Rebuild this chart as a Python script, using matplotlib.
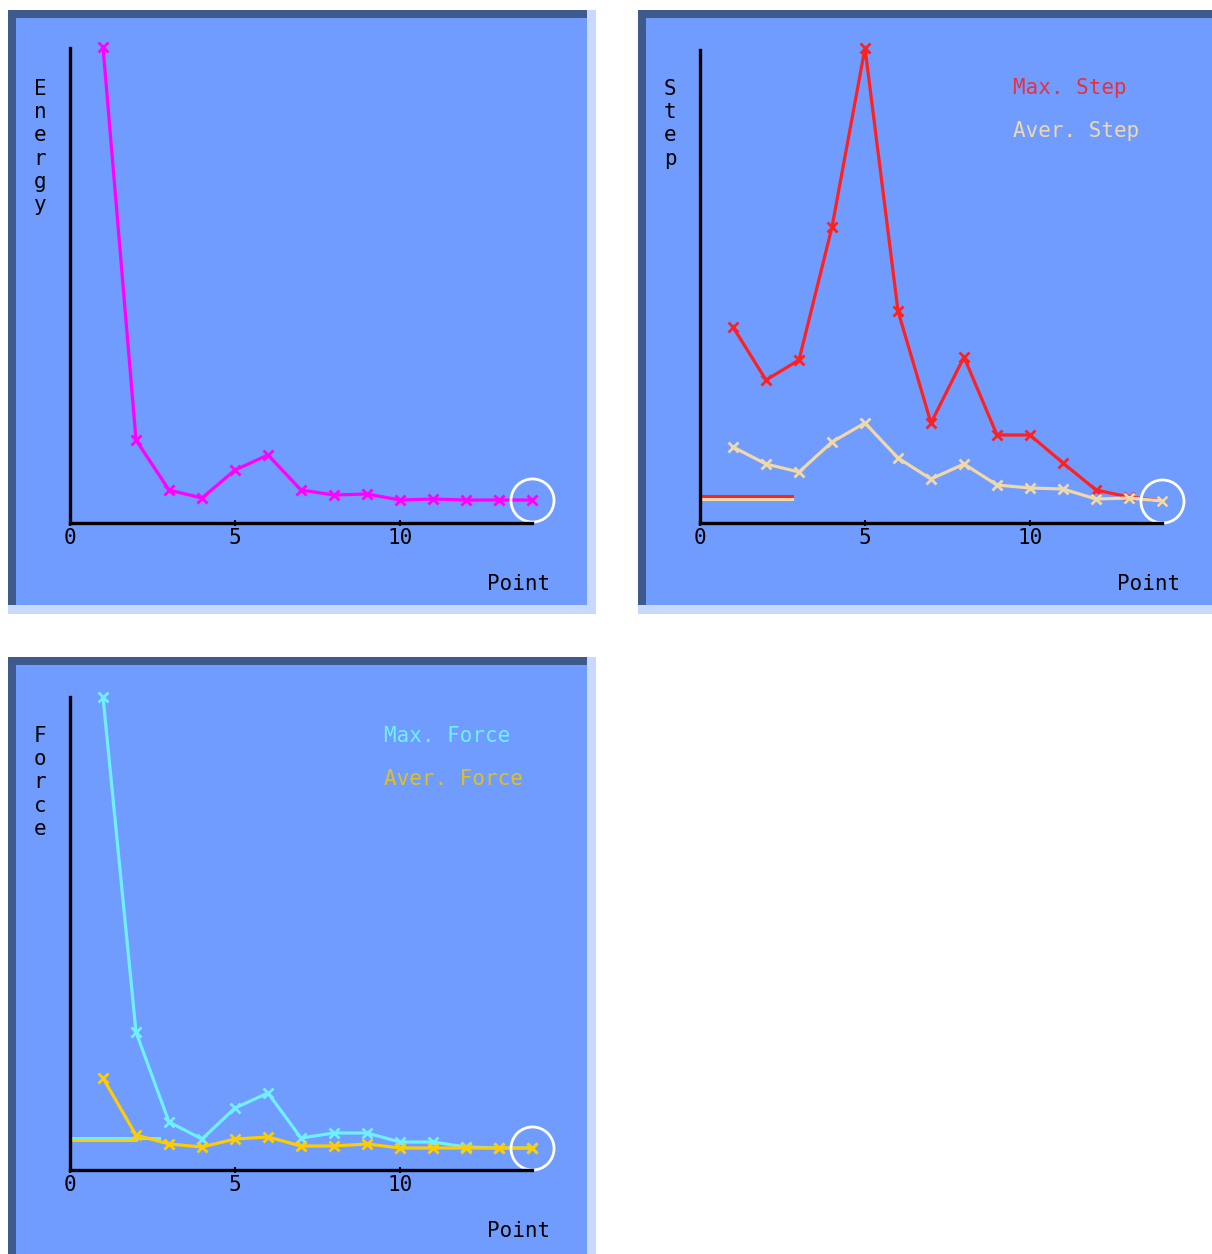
import numpy as np
import matplotlib.pyplot as plt
from matplotlib.patches import Rectangle

# data (arbitrary units)
points = list(range(1, 15))
energy = [476, 83, 33, 25, 53, 68, 33, 28, 29, 23, 24, 23, 23, 23]
max_step = [196, 143, 163, 296, 475, 212, 100, 166, 88, 88, 60, 33, 26, 22]
aver_step = [76, 59, 51, 81, 100, 65, 44, 59, 38, 35, 34, 24, 25, 22]
max_force = [473, 138, 48, 31, 62, 77, 32, 37, 37, 28, 28, 23, 22, 22]
aver_force = [92, 35, 26, 23, 31, 33, 24, 24, 26, 22, 22, 22, 22, 22]
# short stubs drawn from the origin
step_stub_x = [0, 2.8]
max_step_stub = [27, 27]
aver_step_stub = [24, 24]
force_stub_x = [0, 2.7]
force_stub_x2 = [0, 2.0]
max_force_stub = [32, 32]
aver_force_stub = [30, 30]
xticks = [0, 5, 10]

W, H = 1212, 1254
PANEL = '#709cff'
DARK = '#3e5a8c'
LIGHT = '#c8d8ff'
MONO = 'DejaVu Sans Mono'
FS = 15

fig = plt.figure(figsize=(W / 100, H / 100), dpi=100)
fig.patch.set_facecolor('white')

bg = fig.add_axes([0, 0, 1, 1], zorder=0)
bg.set_xlim(0, W)
bg.set_ylim(H, 0)
bg.axis('off')


def panel(x0, y0, x1, y1):
    bg.add_patch(Rectangle((x0, y0), x1 - x0, y1 - y0, color=LIGHT, lw=0))
    bg.add_patch(Rectangle((x0, y0), x1 - x0 - 9, y1 - y0 - 9, color=DARK, lw=0))
    bg.add_patch(Rectangle((x0 + 8, y0 + 8), x1 - x0 - 17, y1 - y0 - 17, color=PANEL, lw=0))


panel(8, 10, 596, 614)
panel(638, 10, 1230, 614)
panel(8, 657, 596, 1272)


def make_axes(l, t, r, b, ymax):
    ax = fig.add_axes([l / W, 1 - b / H, (r - l) / W, (b - t) / H], zorder=2)
    ax.patch.set_alpha(0)
    ax.set_xlim(0, 14)
    ax.set_ylim(0, ymax)
    for s in ['top', 'right']:
        ax.spines[s].set_visible(False)
    for s in ['left', 'bottom']:
        ax.spines[s].set_linewidth(2.4)
        ax.spines[s].set_color('black')
    ax.set_yticks([])
    ax.set_xticks(xticks)
    ax.set_xticklabels([str(t) for t in xticks], family=MONO, fontsize=FS)
    ax.tick_params(axis='x', length=5, width=1.5, pad=1, direction='inout')
    return ax


def series(ax, y, color):
    ax.plot(points, y, color=color, lw=2.3, marker='x', ms=7, mew=2, clip_on=False)


def end_circle(ax, y):
    ax.plot(points[-1], y[-1], 'o', ms=31, mfc='none', mec='white', mew=2, clip_on=False)


def side_label(x, y, text):
    bg.text(x, y, '\n'.join(text), family=MONO, fontsize=FS, ha='center', va='top',
            linespacing=1.2, color='black')


# Energy
ax1 = make_axes(70, 48, 532, 523, 475)
series(ax1, energy, '#ff00ff')
end_circle(ax1, energy)
side_label(40, 79, 'Energy')
bg.text(550, 584, 'Point', family=MONO, fontsize=FS, ha='right', va='center')

# Step
ax2 = make_axes(700, 50, 1162, 523, 473)
ax2.plot(step_stub_x, max_step_stub, color='#ff2020', lw=2.2)
ax2.plot(step_stub_x, aver_step_stub, color='#f0d8a8', lw=2.2)
series(ax2, max_step, '#ff2020')
series(ax2, aver_step, '#f0d8a8')
end_circle(ax2, aver_step)
side_label(670, 79, 'Step')
bg.text(1180, 584, 'Point', family=MONO, fontsize=FS, ha='right', va='center')
bg.text(1013, 88, 'Max. Step', family=MONO, fontsize=FS, color='#e8303c', va='center')
bg.text(1013, 131, 'Aver. Step', family=MONO, fontsize=FS, color='#f0d8a8', va='center')

# Force
ax3 = make_axes(70, 697, 532, 1170, 473)
ax3.plot(force_stub_x, max_force_stub, color='#70f0ff', lw=2.2)
ax3.plot(force_stub_x2, aver_force_stub, color='#ffcc00', lw=2.2)
series(ax3, max_force, '#70f0ff')
series(ax3, aver_force, '#ffcc00')
end_circle(ax3, aver_force)
side_label(40, 726, 'Force')
bg.text(550, 1231, 'Point', family=MONO, fontsize=FS, ha='right', va='center')
bg.text(384, 736, 'Max. Force', family=MONO, fontsize=FS, color='#70f0ff', va='center')
bg.text(384, 779, 'Aver. Force', family=MONO, fontsize=FS, color='#e0c020', va='center')

fig.savefig('out.png', dpi=100)
